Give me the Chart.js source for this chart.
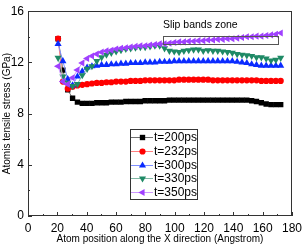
<!DOCTYPE html>
<html lang="en">
<head>
  <meta charset="UTF-8">
  <title>Atomis tensile stress</title>
  <script src="https://cdn.jsdelivr.net/npm/chart.js"></script>
  <style>
    html, body { margin: 0; padding: 0; background: #fff; }
    #wrap { width: 307px; height: 246px; }
  </style>
</head>
<body>
  <div id="wrap"><canvas id="stressChart"></canvas></div>

  <script>
    // atom positions along X (Angstrom)
    const positions = [20.5, 23.8, 27.1, 30.4, 33.7, 37.0, 40.3, 43.6, 46.9, 50.2,
      53.5, 56.8, 60.1, 63.4, 66.7, 70.0, 73.3, 76.6, 79.9, 83.2,
      86.5, 89.8, 93.1, 96.4, 99.7, 103.0, 106.3, 109.6, 112.9, 116.2,
      119.5, 122.8, 126.1, 129.4, 132.7, 136.0, 139.3, 142.6, 145.9, 149.2,
      152.5, 155.8, 159.1, 162.4, 165.7, 169.0, 172.3];

    // stress (GPa)
    const t200 = [13.85, 11.4, 9.85, 9.2, 8.9, 8.8, 8.8, 8.8, 8.85, 8.85,
      8.85, 8.9, 8.9, 8.9, 8.95, 8.95, 8.95, 8.95, 9.0, 9.0,
      9.0, 9.0, 9.0, 9.05, 9.05, 9.05, 9.05, 9.05, 9.05, 9.05,
      9.05, 9.05, 9.05, 9.05, 9.05, 9.05, 9.05, 9.05, 9.05, 9.05,
      9.0, 8.95, 8.85, 8.75, 8.7, 8.7, 8.7];
    const t232 = [13.85, 10.5, 9.95, 10.1, 10.2, 10.25, 10.3, 10.35, 10.4, 10.4,
      10.45, 10.45, 10.5, 10.5, 10.5, 10.55, 10.55, 10.55, 10.6, 10.6,
      10.6, 10.6, 10.6, 10.6, 10.6, 10.65, 10.65, 10.65, 10.65, 10.65,
      10.65, 10.65, 10.6, 10.6, 10.6, 10.6, 10.6, 10.6, 10.6, 10.6,
      10.6, 10.6, 10.55, 10.55, 10.55, 10.55, 10.55];
    const t300 = [13.45, 12.1, 10.7, 10.2, 10.9, 11.3, 11.6, 11.7, 11.75, 11.8,
      11.8, 11.85, 11.85, 11.9, 11.9, 11.95, 11.95, 11.95, 12.0, 12.0,
      12.0, 12.05, 12.05, 12.05, 12.1, 12.1, 12.1, 12.1, 12.1, 12.1,
      12.1, 12.1, 12.1, 12.1, 12.1, 12.1, 12.1, 12.05, 12.0, 11.95,
      11.85, 11.8, 11.75, 11.75, 11.75, 11.75, 11.75];
    const t330 = [12.35, 10.9, 10.4, 10.15, 10.3, 11.0, 11.5, 11.7, 12.1, 12.4,
      12.6, 12.75, 12.85, 12.95, 13.05, 13.1, 13.15, 13.2, 13.2, 13.25,
      13.3, 13.3, 13.1, 12.9, 12.85, 12.8, 12.9, 12.95, 13.0, 13.0,
      12.9, 12.95, 12.9, 12.9, 12.85, 12.8, 12.75, 12.65, 12.6, 12.55,
      12.5, 12.4, 12.4, 12.3, 12.15, 12.2, 12.35];
    const t350 = [11.7, 10.5, 10.3, 10.8, 11.4, 11.95, 12.3, 12.5, 12.65, 12.8,
      12.9, 12.95, 13.05, 13.1, 13.15, 13.2, 13.25, 13.3, 13.3, 13.35,
      13.4, 13.45, 13.45, 13.5, 13.55, 13.6, 13.6, 13.65, 13.65, 13.7,
      13.7, 13.75, 13.75, 13.8, 13.8, 13.85, 13.85, 13.9, 13.95, 14.0,
      14.0, 14.05, 14.05, 14.1, 14.15, 14.2, 14.3];

    const seriesLabels = ["t=200ps", "t=232ps", "t=300ps", "t=330ps", "t=350ps"];
    const xTicks = [0, 20, 40, 60, 80, 100, 120, 140, 160, 180];
    const yTicks = [0, 4, 8, 12, 16];

    // slip bands zone box (x from, x to, y from, y to)
    const zoneLabel = "Slip bands zone";
    const zoneX = [92, 170.5];
    const zoneY = [13.45, 14.1];

    const styles = [
      { fill: "#000000", line: "#707070", shape: "rect", rot: 0, r: 3.8 },
      { fill: "#ff0000", line: "#ff8080", shape: "circle", rot: 0, r: 3.1 },
      { fill: "#0a2bff", line: "#8090ff", shape: "triangle", rot: 0, r: 4.1 },
      { fill: "#1f8a66", line: "#80b8a4", shape: "triangle", rot: 180, r: 4.1 },
      { fill: "#a040ff", line: "#cc99ff", shape: "triangle", rot: 270, r: 4.1 }
    ];

    const allSeries = [t200, t232, t300, t330, t350];

    const datasets = allSeries.map((vals, i) => ({
      label: seriesLabels[i],
      data: vals.map((v, k) => ({ x: positions[k], y: v })),
      borderColor: styles[i].line,
      borderWidth: 1,
      backgroundColor: styles[i].fill,
      pointStyle: styles[i].shape,
      pointRotation: styles[i].rot,
      pointRadius: styles[i].r,
      pointBorderWidth: 0,
      pointBackgroundColor: styles[i].fill,
      pointBorderColor: styles[i].fill,
      order: 5 - i
    }));

    // little marker drawer for the legend
    function marker(ctx, st, x, y) {
      ctx.save();
      ctx.fillStyle = st.fill;
      ctx.translate(x, y);
      ctx.rotate(st.rot * Math.PI / 180);
      ctx.beginPath();
      if (st.shape === "rect") {
        const s = st.r * Math.SQRT1_2;
        ctx.rect(-s, -s, 2 * s, 2 * s);
      } else if (st.shape === "circle") {
        ctx.arc(0, 0, st.r, 0, Math.PI * 2);
      } else {
        const r = st.r;
        ctx.moveTo(0, -r);
        ctx.lineTo(r * 0.866, r * 0.5);
        ctx.lineTo(-r * 0.866, r * 0.5);
        ctx.closePath();
      }
      ctx.fill();
      ctx.restore();
    }

    const decorPlugin = {
      id: "decor",
      afterDatasetsDraw(chart) {
        const { ctx, chartArea: a, scales: { x, y } } = chart;
        ctx.save();

        // frame
        ctx.strokeStyle = "#333";
        ctx.lineWidth = 1;
        ctx.strokeRect(Math.round(a.left) + 0.5, Math.round(a.top) + 0.5,
          Math.round(a.right - a.left) - 1, Math.round(a.bottom - a.top) - 1);

        // inner ticks
        ctx.beginPath();
        for (let v = 0; v <= 180; v += 10) {
          const px = Math.round(x.getPixelForValue(v)) + 0.5;
          const len = v % 20 === 0 ? 4 : 2;
          ctx.moveTo(px, a.bottom);
          ctx.lineTo(px, a.bottom - len);
        }
        for (let v = 0; v <= 16; v += 2) {
          const py = Math.round(y.getPixelForValue(v)) + 0.5;
          const len = v % 4 === 0 ? 4 : 2;
          ctx.moveTo(a.left, py);
          ctx.lineTo(a.left + len, py);
        }
        ctx.stroke();

        // slip bands zone
        const x0 = x.getPixelForValue(zoneX[0]), x1 = x.getPixelForValue(zoneX[1]);
        const y0 = y.getPixelForValue(zoneY[1]), y1 = y.getPixelForValue(zoneY[0]);
        ctx.strokeStyle = "#555";
        ctx.strokeRect(Math.round(x0) + 0.5, Math.round(y0) + 0.5, Math.round(x1 - x0), Math.round(y1 - y0));
        ctx.fillStyle = "#000";
        ctx.font = "10.5px 'Liberation Sans', Arial, sans-serif";
        ctx.textBaseline = "middle";
        ctx.textAlign = "left";
        ctx.fillText(zoneLabel, x0, a.top + 14);

        // legend
        const lx = a.left + 102, ly = a.top + 117.5, lw = 66.5, lh = 69.5;
        ctx.fillStyle = "#fff";
        ctx.fillRect(lx, ly, lw, lh);
        ctx.strokeStyle = "#333";
        ctx.strokeRect(Math.round(lx) + 0.5, Math.round(ly) + 0.5, Math.round(lw), Math.round(lh));
        ctx.font = "12px 'Liberation Sans', Arial, sans-serif";
        seriesLabels.forEach((lab, i) => {
          const ry = ly + 8.5 + i * 13.75;
          ctx.strokeStyle = styles[i].line;
          ctx.beginPath();
          ctx.moveTo(lx + 1, Math.round(ry) + 0.5);
          ctx.lineTo(lx + 23, Math.round(ry) + 0.5);
          ctx.stroke();
          marker(ctx, styles[i], lx + 12.5, Math.round(ry) + 0.5);
          ctx.fillStyle = "#000";
          ctx.fillText(lab, lx + 24, ry + 0.5);
        });

        ctx.restore();
      }
    };

    const tickFont = { family: "'Liberation Sans', Arial, sans-serif", size: 12 };
    const titleFont = { family: "'Liberation Sans', Arial, sans-serif", size: 10 };

    new Chart(document.getElementById("stressChart"), {
      type: "line",
      data: { datasets: datasets },
      options: {
        responsive: true,
        maintainAspectRatio: false,
        animation: false,
        layout: { padding: { left: 0, right: 10, top: 6, bottom: 0 } },
        plugins: { legend: { display: false }, tooltip: { enabled: false } },
        scales: {
          x: {
            type: "linear",
            min: 0,
            max: 180,
            afterBuildTicks: (s) => { s.ticks = xTicks.map(v => ({ value: v })); },
            afterFit: (s) => { s.height = 30; },
            grid: { display: false, drawTicks: false },
            border: { display: false },
            ticks: { color: "#000", font: tickFont, padding: 5, maxRotation: 0, autoSkip: false },
            title: {
              display: true,
              text: "Atom position along the X direction (Angstrom)",
              color: "#000",
              font: titleFont,
              padding: { top: 0, bottom: 1 }
            }
          },
          y: {
            min: 0,
            max: 16,
            afterBuildTicks: (s) => { s.ticks = yTicks.map(v => ({ value: v })); },
            afterFit: (s) => { s.width = 28; },
            grid: { display: false, drawTicks: false },
            border: { display: false },
            ticks: { color: "#000", font: tickFont, padding: 4 },
            title: {
              display: true,
              text: "Atomis tensile stress (GPa)",
              color: "#000",
              font: titleFont,
              padding: { top: 1, bottom: 0 }
            }
          }
        }
      },
      plugins: [decorPlugin]
    });
  </script>
</body>
</html>
